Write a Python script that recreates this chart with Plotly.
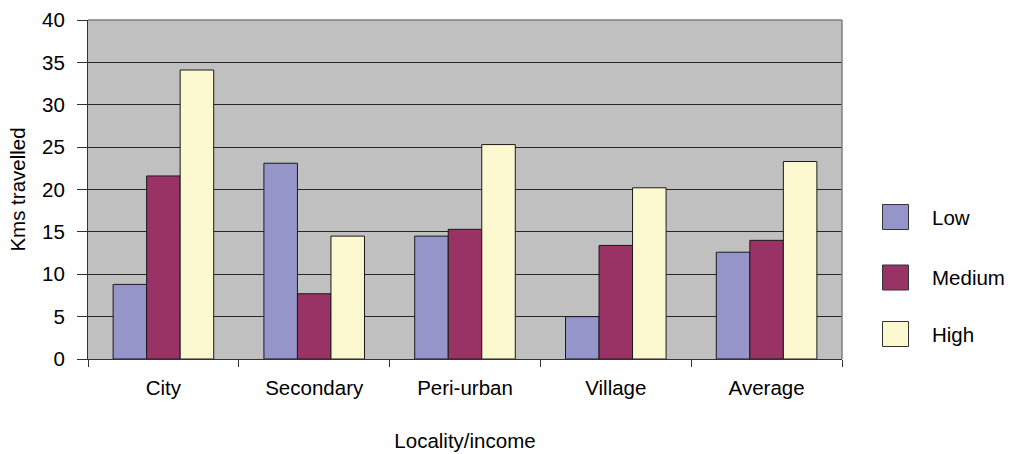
import plotly.graph_objects as go

# Kilometres travelled by locality and income group
localities = ["City", "Secondary", "Peri-urban", "Village", "Average"]
income_groups = ["Low", "Medium", "High"]
low_kms = [8.8, 23.1, 14.5, 5.0, 12.6]
medium_kms = [21.6, 7.7, 15.3, 13.4, 14.0]
high_kms = [34.1, 14.5, 25.3, 20.2, 23.3]
y_ticks = [0, 5, 10, 15, 20, 25, 30, 35, 40]

series_colors = ["#9595C9", "#993366", "#FCF8D0"]
series_values = [low_kms, medium_kms, high_kms]

FONT = "Liberation Sans, Arial, sans-serif"
FS = 20.5
W, H = 1010, 454
ML, MR, MT, MB = 88, 168, 20, 95
PW, PH = W - ML - MR, H - MT - MB

fig = go.Figure()
for name, vals, col in zip(income_groups, series_values, series_colors):
    fig.add_trace(go.Bar(
        x=localities, y=vals, name=name,
        marker=dict(color=col, line=dict(color="#1a1a1a", width=1)),
        showlegend=False,
    ))


def px_to_paper(px, py):
    return (px - ML) / PW, (MT + PH - py) / PH


# Legend drawn as square swatches with labels on the right
shapes = []
annotations = []
legend_rows = [217, 277.5, 334]
for name, col, cy in zip(income_groups, series_colors, legend_rows):
    x0, y0 = px_to_paper(882.5, cy + 12.5)
    x1, y1 = px_to_paper(908.5, cy - 12.5)
    shapes.append(dict(type="rect", xref="paper", yref="paper",
                       x0=x0, y0=y0, x1=x1, y1=y1,
                       fillcolor=col, line=dict(color="#333333", width=1)))
    tx, ty = px_to_paper(930, cy)
    annotations.append(dict(xref="paper", yref="paper", x=tx, y=ty,
                            text=name, showarrow=False, xanchor="left",
                            yanchor="middle",
                            font=dict(family=FONT, size=FS, color="#000")))

# Grey frame on the top and right sides of the plot area
shapes.append(dict(type="line", xref="paper", yref="paper", x0=0, x1=1, y0=1, y1=1,
                   line=dict(color="#7f7f7f", width=1.5)))
shapes.append(dict(type="line", xref="paper", yref="paper", x0=1, x1=1, y0=0, y1=1,
                   line=dict(color="#7f7f7f", width=1.5)))

fig.update_layout(
    width=W, height=H,
    margin=dict(l=ML, r=MR, t=MT, b=MB, pad=0, autoexpand=False),
    paper_bgcolor="white",
    plot_bgcolor="#C0C0C0",
    barmode="group",
    bargap=0.333,
    bargroupgap=0,
    font=dict(family=FONT, size=FS, color="#000"),
    shapes=shapes,
    annotations=annotations,
    showlegend=False,
)

fig.update_xaxes(
    type="category",
    automargin=False,
    tickson="boundaries",
    ticks="outside", ticklen=7, tickcolor="#333333", tickwidth=1,
    showline=True, linecolor="#333333", linewidth=1,
    showgrid=False,
    tickfont=dict(family=FONT, size=FS, color="#000"),
    ticklabelstandoff=10,
    title=dict(text="Locality/income", standoff=36,
               font=dict(family=FONT, size=FS, color="#000")),
)

fig.update_yaxes(
    range=[0, 40],
    automargin=False,
    tickvals=y_ticks,
    ticks="outside", ticklen=10, tickcolor="#333333", tickwidth=1,
    showline=True, linecolor="#333333", linewidth=1,
    showgrid=True, gridcolor="#262626", gridwidth=1,
    zeroline=False,
    tickfont=dict(family=FONT, size=FS, color="#000"),
    ticklabelstandoff=8,
    title=dict(text="Kms travelled", standoff=10,
               font=dict(family=FONT, size=FS, color="#000")),
)

fig.write_html("out.html")
